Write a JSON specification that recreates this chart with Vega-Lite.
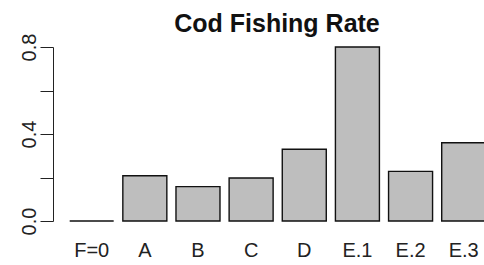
{
  "$schema": "https://vega.github.io/schema/vega-lite/v6.json",
  "autosize": {"type": "none"},
  "padding": {"left": 53, "top": 47, "right": 0, "bottom": 44},
  "width": 431,
  "height": 174,
  "background": "white",
  "config": {"view": {"stroke": null}, "font": "Liberation Sans"},
  "title": {"text": "Cod Fishing Rate", "fontSize": 25, "fontWeight": "bold", "font": "Liberation Sans", "color": "#111", "anchor": "middle", "dx": 8.5, "baseline": "alphabetic", "offset": 2, "dy": 26, "frame": "group"},
  "data": {"values": [
    {"scenario": "F=0", "rate": 0},
    {"scenario": "A", "rate": 0.208},
    {"scenario": "B", "rate": 0.158},
    {"scenario": "C", "rate": 0.198},
    {"scenario": "D", "rate": 0.33},
    {"scenario": "E.1", "rate": 0.8},
    {"scenario": "E.2", "rate": 0.228},
    {"scenario": "E.3", "rate": 0.36}
  ]},
  "mark": {"type": "bar", "fill": "#bebebe", "stroke": "#111", "strokeWidth": 1.4},
  "encoding": {
    "x": {"field": "scenario", "type": "nominal", "sort": null,
      "scale": {"range": [0, 449.4], "paddingInner": 0.172, "paddingOuter": 0.314},
      "axis": {"title": null, "domain": false, "ticks": false, "tickSize": 0, "labelAngle": 0, "labelFontSize": 20, "labelBaseline": "alphabetic", "labelPadding": 35.7, "labelColor": "#222", "labelFont": "Liberation Sans"}},
    "y": {"field": "rate", "type": "quantitative",
      "scale": {"domain": [0, 0.8], "nice": false, "zero": true},
      "axis": {"title": null, "values": [0, 0.2, 0.4, 0.6, 0.8], "labelExpr": "(round(datum.value*10) % 4 == 0) ? format(datum.value, '.1f') : ''", "tickSize": 13, "labelAngle": 270, "labelAlign": "center", "labelBaseline": "alphabetic", "labelPadding": 5, "labelFontSize": 20, "labelColor": "#222", "domainColor": "#222", "tickColor": "#222", "grid": false, "labelFont": "Liberation Sans", "domainWidth": 1, "tickWidth": 1, "labelOverlap": false, "labelFlush": false}}
  }
}
